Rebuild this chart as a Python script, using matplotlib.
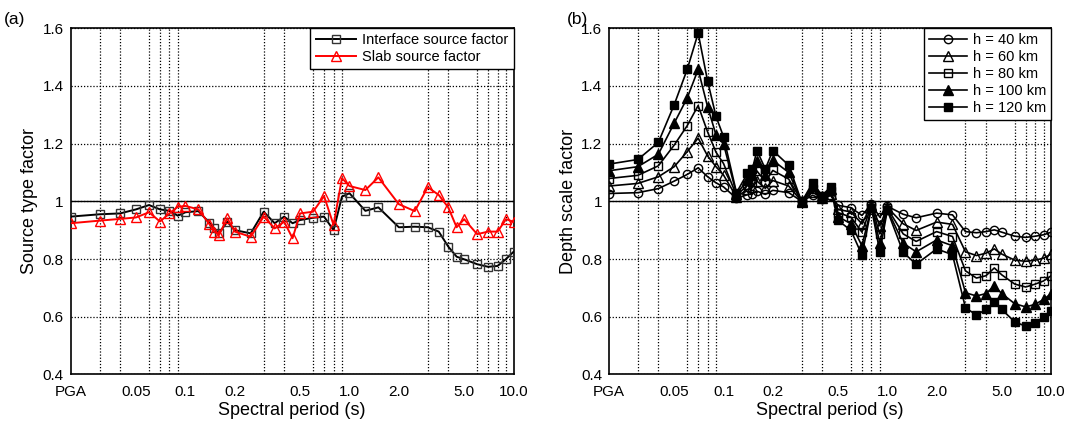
import matplotlib
matplotlib.use("Agg")
import matplotlib.pyplot as plt
from matplotlib.ticker import FixedLocator, NullFormatter

plt.rcParams['font.family'] = ['Liberation Sans', 'DejaVu Sans']

# ---- data ----
periods = [0.02, 0.03, 0.04, 0.05, 0.06, 0.07, 0.08, 0.09, 0.1, 0.12, 0.14, 0.15,
           0.16, 0.18, 0.2, 0.25, 0.3, 0.35, 0.4, 0.45, 0.5, 0.6, 0.7, 0.8, 0.9,
           1.0, 1.25, 1.5, 2.0, 2.5, 3.0, 3.5, 4.0, 4.5, 5.0, 6.0, 7.0, 8.0, 9.0, 10.0]

interface_factor = [0.947, 0.955, 0.958, 0.972, 0.987, 0.972, 0.967, 0.950, 0.962, 0.966,
                    0.926, 0.906, 0.889, 0.929, 0.900, 0.889, 0.964, 0.924, 0.947, 0.924,
                    0.935, 0.943, 0.947, 0.900, 1.016, 1.028, 0.967, 0.979, 0.910, 0.912,
                    0.910, 0.895, 0.843, 0.808, 0.799, 0.782, 0.773, 0.776, 0.800, 0.825]

slab_factor = [0.924, 0.933, 0.939, 0.944, 0.962, 0.930, 0.958, 0.981, 0.984, 0.972,
               0.921, 0.895, 0.883, 0.941, 0.895, 0.877, 0.947, 0.906, 0.929, 0.872,
               0.958, 0.964, 1.018, 0.918, 1.080, 1.053, 1.039, 1.083, 0.990, 0.966,
               1.049, 1.022, 0.979, 0.910, 0.938, 0.886, 0.895, 0.895, 0.938, 0.929]

depth_h40 = [1.027, 1.030, 1.044, 1.070, 1.093, 1.116, 1.085, 1.064, 1.050, 1.010,
             1.023, 1.027, 1.035, 1.024, 1.038, 1.030, 1.000, 1.021, 1.007, 1.020,
             0.986, 0.978, 0.951, 0.990, 0.945, 0.983, 0.955, 0.943, 0.959, 0.953,
             0.895, 0.891, 0.895, 0.901, 0.893, 0.879, 0.875, 0.879, 0.884, 0.893]
depth_h60 = [1.053, 1.062, 1.085, 1.120, 1.172, 1.219, 1.157, 1.120, 1.091, 1.015,
             1.041, 1.048, 1.070, 1.045, 1.072, 1.053, 1.000, 1.032, 1.010, 1.027,
             0.972, 0.963, 0.922, 0.987, 0.915, 0.979, 0.922, 0.899, 0.928, 0.920,
             0.825, 0.812, 0.820, 0.835, 0.817, 0.796, 0.792, 0.796, 0.803, 0.817]
depth_h80 = [1.079, 1.090, 1.123, 1.195, 1.262, 1.332, 1.240, 1.170, 1.131, 1.020,
             1.056, 1.068, 1.105, 1.068, 1.107, 1.077, 1.000, 1.042, 1.013, 1.035,
             0.961, 0.945, 0.893, 0.984, 0.887, 0.976, 0.887, 0.861, 0.895, 0.878,
             0.759, 0.734, 0.742, 0.769, 0.745, 0.713, 0.703, 0.713, 0.724, 0.742]
depth_h100 = [1.106, 1.120, 1.163, 1.271, 1.358, 1.457, 1.327, 1.230, 1.199, 1.025,
              1.073, 1.090, 1.140, 1.090, 1.142, 1.100, 0.999, 1.053, 1.017, 1.042,
              0.947, 0.922, 0.846, 0.980, 0.857, 0.972, 0.855, 0.825, 0.866, 0.846,
              0.683, 0.672, 0.680, 0.707, 0.680, 0.645, 0.634, 0.643, 0.660, 0.680]
depth_h120 = [1.129, 1.145, 1.204, 1.335, 1.457, 1.583, 1.416, 1.294, 1.224, 1.030,
              1.097, 1.112, 1.176, 1.112, 1.176, 1.125, 0.998, 1.064, 1.020, 1.050,
              0.934, 0.899, 0.814, 0.977, 0.825, 0.969, 0.823, 0.782, 0.835, 0.815,
              0.631, 0.606, 0.625, 0.651, 0.625, 0.582, 0.567, 0.579, 0.599, 0.619]

depth_labels = ['h = 40 km', 'h = 60 km', 'h = 80 km', 'h = 100 km', 'h = 120 km']

xtick_pos = [0.02, 0.05, 0.1, 0.2, 0.5, 1.0, 2.0, 5.0, 10.0]
xtick_labels = ['PGA', '0.05', '0.1', '0.2', '0.5', '1.0', '2.0', '5.0', '10.0']
xgrid_pos = [0.03, 0.04, 0.05, 0.06, 0.07, 0.08, 0.09, 0.1, 0.2, 0.3, 0.4, 0.5, 0.6,
             0.7, 0.8, 0.9, 1.0, 2.0, 3.0, 4.0, 5.0, 6.0, 7.0, 8.0, 9.0]
ytick_pos = [0.4, 0.6, 0.8, 1.0, 1.2, 1.4, 1.6]
ytick_labels = ['0.4', '0.6', '0.8', '1', '1.2', '1.4', '1.6']

FS_TICK = 11
FS_LEG = 10.5
FS_LAB = 13

fig = plt.figure(figsize=(10.73, 4.26), dpi=100)
ax1 = fig.add_axes([0.0659, 0.1211, 0.4127, 0.8127])
ax2 = fig.add_axes([0.5676, 0.1211, 0.4120, 0.8127])


def style_axes(ax, ylabel):
    ax.set_xscale('log')
    ax.set_xlim(0.02, 10.0)
    ax.set_ylim(0.4, 1.6)
    ax.xaxis.set_major_locator(FixedLocator(xtick_pos))
    ax.set_xticklabels(xtick_labels)
    ax.xaxis.set_minor_locator(FixedLocator(xgrid_pos))
    ax.xaxis.set_minor_formatter(NullFormatter())
    ax.set_yticks(ytick_pos)
    ax.set_yticklabels(ytick_labels)
    ax.tick_params(which='both', length=0, labelsize=FS_TICK, colors='black')
    ax.tick_params(axis='x', pad=7.5)
    ax.tick_params(axis='y', pad=5)
    ax.xaxis.grid(True, which='minor', linestyle=(0, (1, 1.5)), color='black', lw=0.9)
    ax.xaxis.grid(False, which='major')
    ax.yaxis.grid(True, which='major', linestyle=(0, (1, 1.5)), color='black', lw=0.9)
    ax.set_axisbelow(True)
    ax.axhline(1.0, color='black', lw=1.0, zorder=1.5)
    for sp in ax.spines.values():
        sp.set_linewidth(1.2)
        sp.set_color('black')
    ax.set_xlabel('Spectral period (s)', fontsize=FS_LAB, labelpad=2)
    ax.set_ylabel(ylabel, fontsize=FS_LAB, labelpad=3)


style_axes(ax1, 'Source type factor')
style_axes(ax2, 'Depth scale factor')

ax1.plot(periods, interface_factor, color='black', lw=1.4, marker='s', ms=5.5,
         mfc='none', mec='#333333', mew=1.0, label='Interface source factor', zorder=3)
ax1.plot(periods, slab_factor, color='#ff0000', lw=1.4, marker='^', ms=6.5,
         mfc='none', mec='#ff0000', mew=1.0, label='Slab source factor', zorder=4)

leg1 = ax1.legend(loc='upper right', fontsize=FS_LEG, frameon=True, fancybox=False,
                  edgecolor='black', framealpha=1, borderaxespad=0.0,
                  handlelength=2.8, handletextpad=0.4, borderpad=0.35,
                  labelspacing=0.2, bbox_to_anchor=(1.0, 1.0))
leg1.get_frame().set_linewidth(1.0)

depth_series = [depth_h40, depth_h60, depth_h80, depth_h100, depth_h120]
markers = ['o', '^', 's', '^', 's']
fills = ['none', 'none', 'none', 'black', 'black']
sizes = [6.0, 6.5, 5.5, 6.5, 6.0]
for vals, lab, mk, fc, sz in zip(depth_series, depth_labels, markers, fills, sizes):
    ax2.plot(periods, vals, color='black', lw=1.2, marker=mk, ms=sz, mfc=fc,
             mec='black', mew=1.0, label=lab, zorder=3)

leg2 = ax2.legend(loc='upper right', fontsize=FS_LEG, frameon=True, fancybox=False,
                  edgecolor='black', framealpha=1, borderaxespad=0.0,
                  handlelength=2.6, handletextpad=0.4, borderpad=0.35,
                  labelspacing=0.2, bbox_to_anchor=(1.0, 1.0))
leg2.get_frame().set_linewidth(1.0)

fig.text(0.004, 0.955, '(a)', fontsize=12.5, ha='left', va='center')
fig.text(0.528, 0.955, '(b)', fontsize=12.5, ha='left', va='center')

fig.savefig('out.png', dpi=100)
